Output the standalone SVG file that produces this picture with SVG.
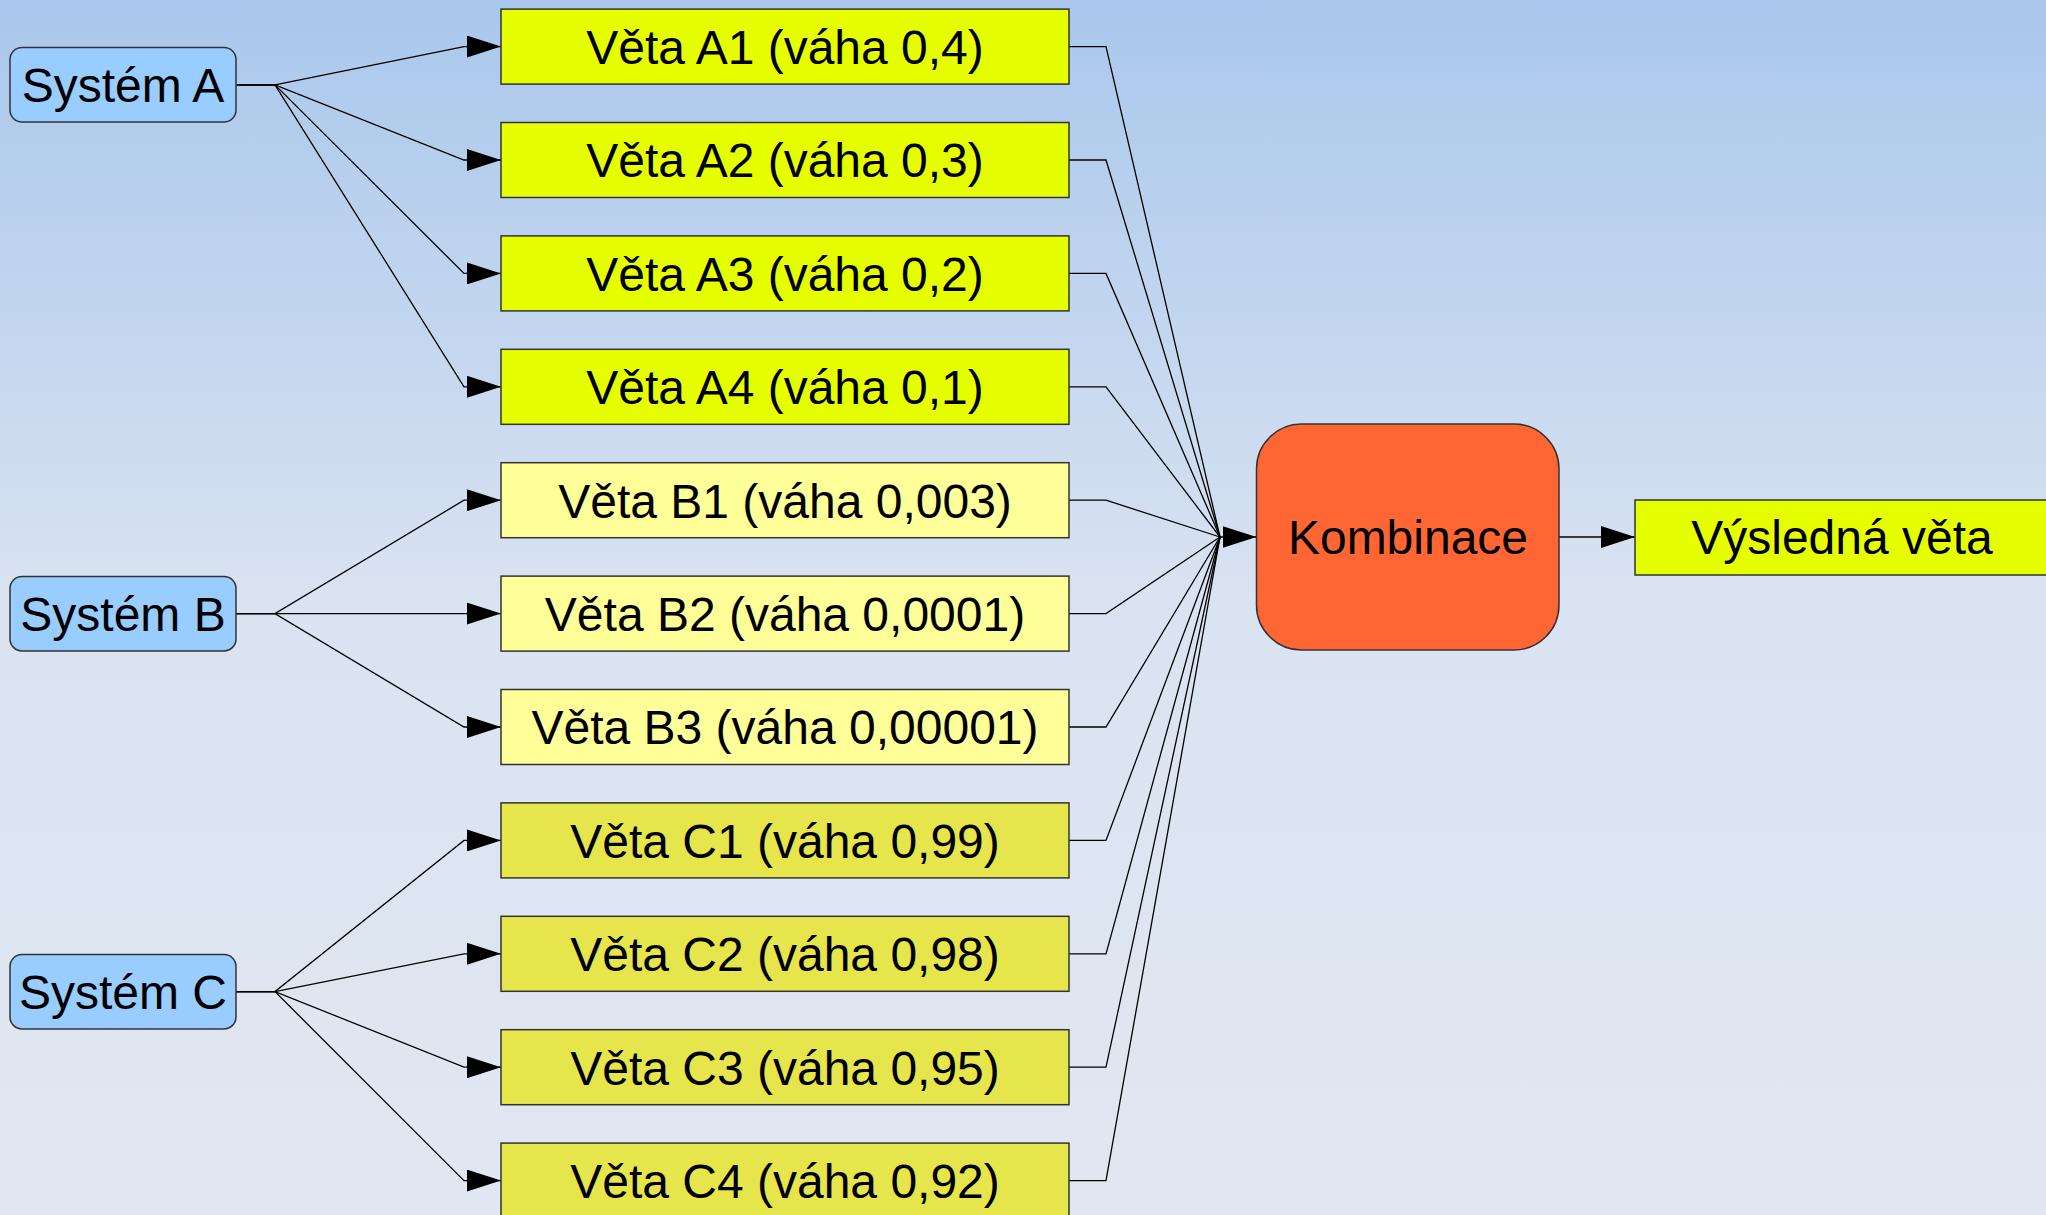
<svg xmlns="http://www.w3.org/2000/svg" width="2046" height="1215" viewBox="0 0 2046 1215">
<defs>
<linearGradient id="bg" x1="0" y1="0" x2="0" y2="1">
<stop offset="0" stop-color="#A9C7EC"/>
<stop offset="0.5" stop-color="#DAE3F1"/>
<stop offset="1" stop-color="#E1E7F2"/>
</linearGradient>
<marker id="arr" viewBox="0 0 34 22" refX="34" refY="11" markerWidth="34" markerHeight="22" markerUnits="userSpaceOnUse" orient="auto">
<path d="M0,0 L34,11 L0,22 z" fill="#000"/>
</marker>
<style>
.sys{fill:#99CCFF;stroke:#333;stroke-width:1.5}
.a{fill:#E6FF00;stroke:#333;stroke-width:1.5}
.b{fill:#FFFF99;stroke:#333;stroke-width:1.5}
.c{fill:#E6E64C;stroke:#333;stroke-width:1.5}
.k{fill:#FF6633;stroke:#333;stroke-width:1.5}
text{font-family:"Liberation Sans",Arial,sans-serif;font-size:48px;fill:#000;text-anchor:middle}
.con path{fill:none;stroke:#000;stroke-width:1.3}
.con path.ar{marker-end:url(#arr)}
</style>
</defs>
<rect x="0" y="0" width="2046" height="1215" fill="url(#bg)"/>

<g class="con" id="connectors">
<path class="ar" d="M236,84.8 H275 L464,46.6 H501"/>
<path class="ar" d="M236,84.8 H275 L464,160 H501"/>
<path class="ar" d="M236,84.8 H275 L464,273.4 H501"/>
<path class="ar" d="M236,84.8 H275 L464,386.8 H501"/>
<path class="ar" d="M236,613.6 H275 L464,500.2 H501"/>
<path class="ar" d="M236,613.6 H501"/>
<path class="ar" d="M236,613.6 H275 L464,727 H501"/>
<path class="ar" d="M236,991.6 H275 L464,840.4 H501"/>
<path class="ar" d="M236,991.6 H275 L464,953.8 H501"/>
<path class="ar" d="M236,991.6 H275 L464,1067.2 H501"/>
<path class="ar" d="M236,991.6 H275 L464,1180.6 H501"/>
<path d="M1069,46.6 H1106 L1220,537"/>
<path d="M1069,160 H1106 L1220,537"/>
<path d="M1069,273.4 H1106 L1220,537"/>
<path d="M1069,386.8 H1106 L1220,537"/>
<path d="M1069,500.2 H1106 L1220,537"/>
<path d="M1069,613.6 H1106 L1220,537"/>
<path d="M1069,727 H1106 L1220,537"/>
<path d="M1069,840.4 H1106 L1220,537"/>
<path d="M1069,953.8 H1106 L1220,537"/>
<path d="M1069,1067.2 H1106 L1220,537"/>
<path d="M1069,1180.6 H1106 L1220,537"/>
<path class="ar" d="M1219,537 H1256.5"/>
<path class="ar" d="M1559,537 H1635"/>
</g>

<g id="sysA"><rect class="sys" x="10" y="47.5" width="226" height="74.5" rx="12"/><text x="123" y="102">Systém A</text></g>
<g id="sysB"><rect class="sys" x="10" y="576.4" width="226" height="74.5" rx="12"/><text x="123" y="631">Systém B</text></g>
<g id="sysC"><rect class="sys" x="10" y="954.4" width="226" height="74.5" rx="12"/><text x="123" y="1009">Systém C</text></g>

<g id="A1"><rect class="a" x="501" y="9.1" width="568" height="75"/><text x="785" y="64">Věta A1 (váha 0,4)</text></g>
<g id="A2"><rect class="a" x="501" y="122.5" width="568" height="75"/><text x="785" y="177.4">Věta A2 (váha 0,3)</text></g>
<g id="A3"><rect class="a" x="501" y="235.9" width="568" height="75"/><text x="785" y="290.8">Věta A3 (váha 0,2)</text></g>
<g id="A4"><rect class="a" x="501" y="349.3" width="568" height="75"/><text x="785" y="404.2">Věta A4 (váha 0,1)</text></g>
<g id="B1"><rect class="b" x="501" y="462.7" width="568" height="75"/><text x="785" y="517.6">Věta B1 (váha 0,003)</text></g>
<g id="B2"><rect class="b" x="501" y="576.1" width="568" height="75"/><text x="785" y="631">Věta B2 (váha 0,0001)</text></g>
<g id="B3"><rect class="b" x="501" y="689.5" width="568" height="75"/><text x="785" y="744.4">Věta B3 (váha 0,00001)</text></g>
<g id="C1"><rect class="c" x="501" y="802.9" width="568" height="75"/><text x="785" y="857.8">Věta C1 (váha 0,99)</text></g>
<g id="C2"><rect class="c" x="501" y="916.3" width="568" height="75"/><text x="785" y="971.2">Věta C2 (váha 0,98)</text></g>
<g id="C3"><rect class="c" x="501" y="1029.7" width="568" height="75"/><text x="785" y="1084.6">Věta C3 (váha 0,95)</text></g>
<g id="C4"><rect class="c" x="501" y="1143.1" width="568" height="75"/><text x="785" y="1198">Věta C4 (váha 0,92)</text></g>

<g id="kombinace"><rect class="k" x="1256.5" y="424" width="302.5" height="226" rx="45"/><text x="1408" y="554">Kombinace</text></g>
<g id="vysledna"><rect class="a" x="1635" y="500" width="416" height="75"/><text x="1842" y="554">Výsledná věta</text></g>
</svg>
